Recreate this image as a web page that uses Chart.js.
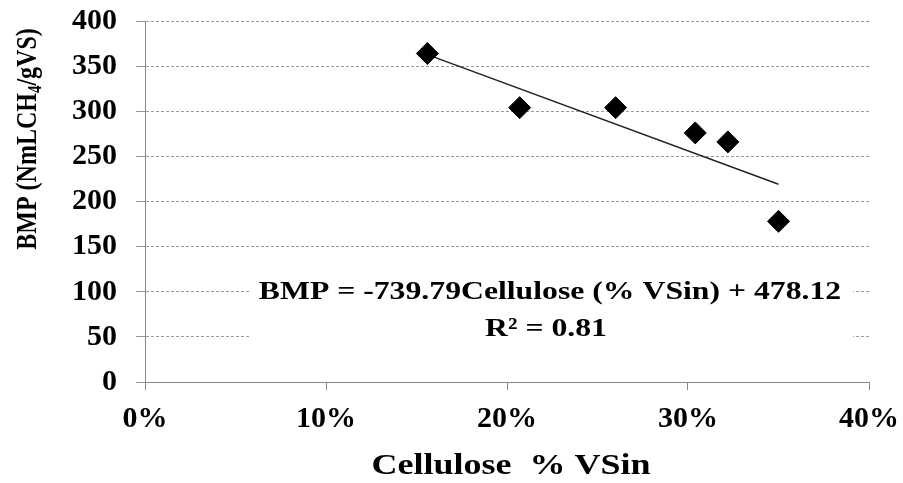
<!DOCTYPE html>
<html>
<head>
<meta charset="utf-8">
<script src="https://cdn.jsdelivr.net/npm/chart.js@4"></script>
<style>
  html, body { margin: 0; padding: 0; background: #fff; }
  #wrap { width: 903px; height: 483px; position: relative; }
</style>
</head>
<body>
<div id="wrap"><canvas id="bmpChart"></canvas></div>
<script>
// Cellulose fraction of VS input vs. methane potential
const cellulose = [0.156, 0.207, 0.260, 0.304, 0.322, 0.350];
const bmp = [364, 304, 304, 276, 266, 178];

// linear fit, as printed on the chart
const slope = -739.79;
const intercept = 478.12;
const fitLabel = ['BMP = -739.79Cellulose (% VSin) + 478.12', 'R\u00B2 = 0.81'];

const xTitle = 'Cellulose  % VSin';
const yTitleParts = ['BMP (NmLCH', '4', '/gVS)'];

const serif = '"Liberation Serif", "Times New Roman", serif';

// trend line spans the measured range
const xMin = Math.min(...cellulose);
const xMax = Math.max(...cellulose);
const fitLine = [xMin, xMax].map(x => ({ x: x, y: intercept + slope * x }));

const points = cellulose.map((x, i) => ({ x: x, y: bmp[i] }));

// titles + equation box drawn by hand (subscript, stretched type)
const labelsPlugin = {
  id: 'labels',
  beforeDatasetsDraw(chart) {
    const ctx = chart.ctx;
    ctx.save();
    ctx.fillStyle = '#fff';
    ctx.fillRect(250, 272, 603, 72);
    ctx.fillStyle = '#000';
    ctx.font = 'bold 26px ' + serif;
    ctx.textAlign = 'center';
    ctx.textBaseline = 'middle';
    const rows = [[550, 292], [546, 329]];
    fitLabel.forEach((txt, i) => {
      ctx.save();
      ctx.translate(rows[i][0], rows[i][1]);
      ctx.scale(1.22, 1);
      ctx.fillText(txt, 0, 0);
      ctx.restore();
    });
    ctx.restore();
  },
  afterDraw(chart) {
    const ctx = chart.ctx;
    ctx.save();
    ctx.fillStyle = '#000';
    ctx.textBaseline = 'middle';

    // x title
    ctx.font = 'bold 30px ' + serif;
    ctx.textAlign = 'center';
    ctx.save();
    ctx.translate(511, 466);
    ctx.scale(1.2, 1);
    ctx.fillText(xTitle, 0, 0);
    ctx.restore();

    // y title with subscript 4
    const big = 'bold 24px ' + serif;
    const small = 'bold 15px ' + serif;
    ctx.font = big;
    const w0 = ctx.measureText(yTitleParts[0]).width;
    const w2 = ctx.measureText(yTitleParts[2]).width;
    ctx.font = small;
    const w1 = ctx.measureText(yTitleParts[1]).width;
    const total = w0 + w1 + w2;
    ctx.translate(29, 139);
    ctx.rotate(-Math.PI / 2);
    ctx.scale(1, 1.2);
    ctx.textAlign = 'left';
    let cx = -total / 2;
    ctx.font = big;
    ctx.fillText(yTitleParts[0], cx, 0);
    cx += w0;
    ctx.font = small;
    ctx.fillText(yTitleParts[1], cx, 6);
    cx += w1;
    ctx.font = big;
    ctx.fillText(yTitleParts[2], cx, 0);
    ctx.restore();
  }
};

new Chart(document.getElementById('bmpChart'), {
  type: 'scatter',
  data: {
    datasets: [
      {
        label: 'BMP',
        data: points,
        pointStyle: 'rectRot',
        pointRadius: 11,
        pointHoverRadius: 11,
        backgroundColor: '#000',
        borderColor: '#000',
        borderWidth: 1,
        order: 1
      },
      {
        type: 'line',
        label: 'Linear fit',
        data: fitLine,
        borderColor: '#222',
        borderWidth: 1.5,
        pointRadius: 0,
        fill: false,
        order: 2
      }
    ]
  },
  options: {
    responsive: true,
    maintainAspectRatio: false,
    animation: false,
    layout: { padding: 0 },
    plugins: {
      legend: { display: false },
      tooltip: { enabled: false }
    },
    scales: {
      x: {
        type: 'linear',
        min: 0,
        max: 0.4,
        afterFit(scale) {
          scale.height = 101;
          scale.paddingLeft = 0;
          scale.paddingRight = 34;
        },
        ticks: {
          stepSize: 0.1,
          padding: 11,
          color: '#000',
          font: { family: serif, size: 30, weight: 'bold' },
          callback: v => Math.round(v * 100) + '%'
        },
        grid: {
          drawOnChartArea: false,
          drawTicks: true,
          tickLength: 8,
          color: '#888'
        },
        border: { display: true, color: '#888', width: 1 }
      },
      y: {
        min: 0,
        max: 400,
        afterFit(scale) {
          scale.width = 145;
          scale.paddingTop = 21;
          scale.paddingBottom = 0;
        },
        ticks: {
          stepSize: 50,
          padding: 19,
          color: '#000',
          font: { family: serif, size: 30, weight: 'bold' }
        },
        grid: {
          drawOnChartArea: true,
          drawTicks: true,
          tickLength: 9,
          color: '#999',
          lineWidth: 1
        },
        border: { display: true, color: '#888', width: 1, dash: [3, 2] }
      }
    }
  },
  plugins: [labelsPlugin]
});
</script>
</body>
</html>
